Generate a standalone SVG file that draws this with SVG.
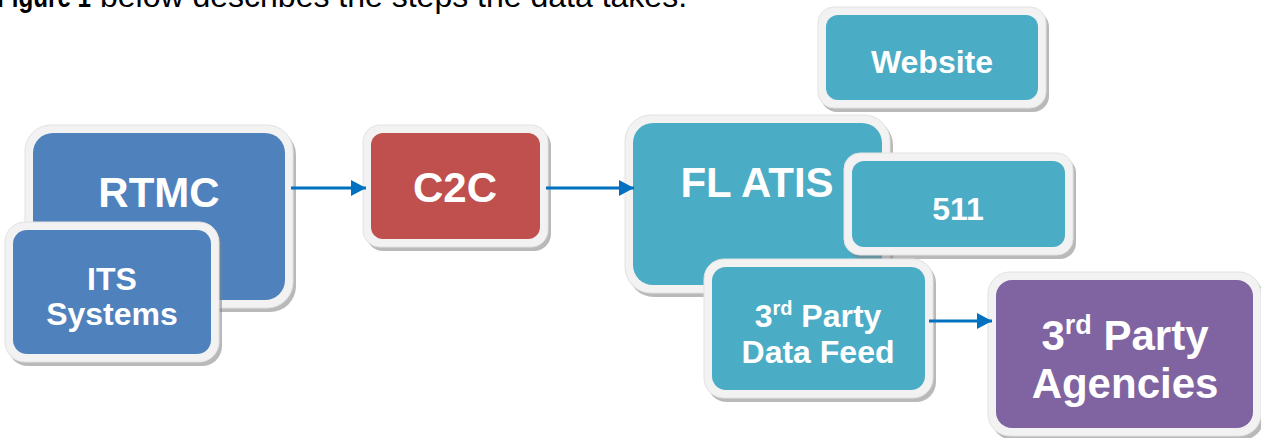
<svg xmlns="http://www.w3.org/2000/svg" width="1261" height="438" viewBox="0 0 1261 438">
<style>
.t{font-family:"Liberation Sans",Arial,sans-serif;font-weight:bold;fill:#fff;text-anchor:middle}
.big{font-size:42px}
.sm{font-size:32px}
.frame{fill:#f2f2f2;stroke:#e2e2e2;stroke-width:1}
.sh{fill:#7f7f7f;fill-opacity:.55}
.conn{stroke:#0070C0;stroke-width:3;fill:none;marker-end:url(#ah)}
.cap{font-family:"Liberation Sans",Arial,sans-serif;font-size:32px;fill:#000}
</style>
<defs>
<marker id="ah" markerUnits="userSpaceOnUse" markerWidth="15" markerHeight="16" refX="15" refY="8" orient="auto">
<path d="M0,0 L15,8 L0,16 z" fill="#0070C0"/>
</marker>
</defs>
<rect width="1261" height="438" fill="#fff"/>
<text class="cap" y="7"><tspan x="-3" font-size="29" font-weight="bold" textLength="94" lengthAdjust="spacingAndGlyphs">Figure 1</tspan><tspan x="100">below describes the steps the data takes.</tspan></text>

<g id="website">
<rect class="sh" x="821" y="11" width="228" height="101" rx="16"/>
<rect class="frame" x="818" y="7" width="228" height="101" rx="16"/>
<rect x="826" y="15" width="212" height="85" rx="12" fill="#4BACC6"/>
<text class="t sm" x="932" y="73">Website</text>
</g>

<g id="rtmc">
<rect class="sh" x="28" y="129" width="268" height="183" rx="26"/>
<rect class="frame" x="25" y="125" width="268" height="183" rx="26"/>
<rect x="33" y="133" width="252" height="167" rx="20" fill="#4F81BD"/>
<text class="t big" x="159" y="207">RTMC</text>
</g>

<g id="its">
<rect class="sh" x="8" y="226" width="214" height="140" rx="20"/>
<rect class="frame" x="5" y="222" width="214" height="140" rx="20"/>
<rect x="13" y="230" width="198" height="124" rx="14" fill="#4F81BD"/>
<text class="t sm" x="112" y="290">ITS</text>
<text class="t sm" x="112" y="325">Systems</text>
</g>

<g id="c2c">
<rect class="sh" x="366" y="129" width="185" height="122" rx="17"/>
<rect class="frame" x="363" y="125" width="185" height="122" rx="17"/>
<rect x="371" y="133" width="169" height="106" rx="12" fill="#C0504D"/>
<text class="t big" x="455" y="202">C2C</text>
</g>

<g id="flatis">
<rect class="sh" x="628" y="119" width="265" height="178" rx="26"/>
<rect class="frame" x="625" y="115" width="265" height="178" rx="26"/>
<rect x="633" y="123" width="249" height="162" rx="20" fill="#4BACC6"/>
<text class="t big" x="757" y="197">FL ATIS</text>
</g>

<g id="n511">
<rect class="sh" x="847" y="157" width="229" height="102" rx="16"/>
<rect class="frame" x="844" y="153" width="229" height="102" rx="16"/>
<rect x="852" y="161" width="213" height="86" rx="12" fill="#4BACC6"/>
<text class="t sm" x="958" y="220">511</text>
</g>

<g id="datafeed">
<rect class="sh" x="707" y="263" width="229" height="139" rx="20"/>
<rect class="frame" x="704" y="259" width="229" height="139" rx="20"/>
<rect x="712" y="267" width="213" height="123" rx="14" fill="#4BACC6"/>
<text class="t sm" x="818" y="327">3<tspan font-size="20" dy="-12">rd</tspan><tspan dy="12"> Party</tspan></text>
<text class="t sm" x="818" y="363">Data Feed</text>
</g>

<g id="agencies">
<rect class="sh" x="991" y="276" width="273" height="164" rx="22"/>
<rect class="frame" x="988" y="272" width="273" height="164" rx="22"/>
<rect x="996" y="280" width="257" height="148" rx="16" fill="#8064A2"/>
<text class="t big" x="1125" y="350">3<tspan font-size="27" dy="-16">rd</tspan><tspan dy="16"> Party</tspan></text>
<text class="t big" x="1125" y="398">Agencies</text>
</g>

<g id="connectors">
<line class="conn" x1="291" y1="188" x2="366" y2="188"/>
<line class="conn" x1="546" y1="188" x2="634" y2="188"/>
<line class="conn" x1="929" y1="321" x2="992" y2="321"/>
</g>
</svg>
